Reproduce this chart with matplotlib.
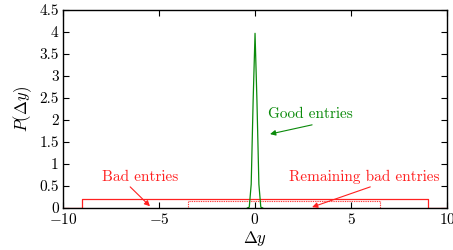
import matplotlib
matplotlib.use("Agg")
import matplotlib.pyplot as plt

plt.rcParams['font.family'] = 'serif'
plt.rcParams['font.serif'] = ['cmr10', 'DejaVu Serif']
plt.rcParams['mathtext.fontset'] = 'cm'
plt.rcParams['axes.formatter.use_mathtext'] = True
plt.rcParams['axes.unicode_minus'] = True

# Data
good_x = [-0.4, -0.3, -0.2, -0.1, 0.0, 0.1, 0.2, 0.3, 0.4]
good_y = [0.0, 0.02, 0.54, 2.42, 3.97, 2.42, 0.54, 0.02, 0.0]

bad_x = [-10, -9, -9, 9, 9, 10]
bad_y = [0, 0, 0.2, 0.2, 0, 0]

remain_x = [-3.5, -3.5, 6.5, 6.5]
remain_y = [0, 0.17, 0.17, 0]

xticks = [-10, -5, 0, 5, 10]
yticks = [0, 0.5, 1, 1.5, 2, 2.5, 3, 3.5, 4, 4.5]

red = '#ff2020'
green = '#0a8a0a'

fig = plt.figure(figsize=(4.53, 2.5), dpi=100)
ax = fig.add_axes([0.139, 0.168, 0.848, 0.792])

ax.plot(bad_x, bad_y, color=red, lw=0.9)
ax.plot(remain_x, remain_y, color=red, lw=0.8, ls=(0, (0.8, 0.8)))
ax.plot(good_x, good_y, color=green, lw=0.9)

ax.set_xlim(-10, 10)
ax.set_ylim(0, 4.5)
ax.set_xticks(xticks)
ax.set_yticks(yticks)
ax.set_yticklabels(['0', '0.5', '1', '1.5', '2', '2.5', '3', '3.5', '4', '4.5'])
ax.set_xticklabels([r'$-10$', r'$-5$', r'$0$', r'$5$', r'$10$'])
ax.tick_params(direction='in', top=True, right=True, length=4, width=0.8,
               labelsize=11, pad=3)
for s in ax.spines.values():
    s.set_linewidth(1.0)

ax.set_xlabel(r'$\Delta y$', fontsize=12, labelpad=1)
ax.set_ylabel(r'$P(\Delta y)$', fontsize=12, labelpad=4)

arrow = dict(arrowstyle='-|>', lw=0.8, mutation_scale=8, shrinkA=0, shrinkB=0)

ax.text(0.67, 2.14, 'Good entries', color=green, fontsize=11, ha='left', va='center')
ax.annotate('', xy=(0.78, 1.68), xytext=(2.97, 1.89),
            arrowprops=dict(color=green, **arrow))

ax.text(-6.0, 0.70, 'Bad entries', color=red, fontsize=11, ha='center', va='center')
ax.annotate('', xy=(-5.47, 0.04), xytext=(-6.5, 0.48),
            arrowprops=dict(color=red, **arrow))

ax.text(5.68, 0.70, 'Remaining bad entries', color=red, fontsize=11, ha='center', va='center')
ax.annotate('', xy=(2.97, 0.02), xytext=(6.0, 0.48),
            arrowprops=dict(color=red, **arrow))

fig.savefig('out.png', dpi=100)
